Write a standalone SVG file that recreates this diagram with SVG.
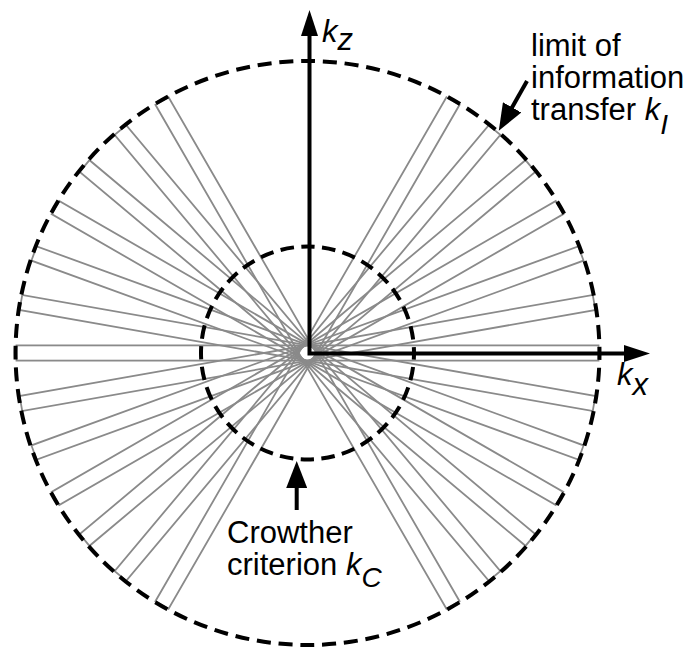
<svg xmlns="http://www.w3.org/2000/svg" width="692" height="648" viewBox="0 0 692 648">
<style>
.strip{fill:none;stroke:#8a8a8a;stroke-width:1.8}
.ring{fill:none;stroke:#000;stroke-width:4}
.axis{fill:none;stroke:#000;stroke-width:4;stroke-linejoin:miter}
.call{fill:none;stroke:#000;stroke-width:4}
.lbl{font-family:"Liberation Sans",Arial,sans-serif;font-size:31px;fill:#000}
.it{font-style:italic}
</style>
<defs>
<marker id="axhead" markerUnits="userSpaceOnUse" viewBox="0 0 26 17" refX="1" refY="8.5" markerWidth="26" markerHeight="17" orient="auto-start-reverse"><path d="M0,0 L26,8.5 L0,17 z" fill="#000"/></marker>
<marker id="callhead" markerUnits="userSpaceOnUse" viewBox="0 0 27 21" refX="1" refY="10.5" markerWidth="27" markerHeight="21" orient="auto"><path d="M0,0 L27,10.5 L0,21 z" fill="#000"/></marker>
<rect id="s" class="strip" x="-291" y="-7.6" width="582" height="15.2"/>
</defs>
<g id="strips" transform="translate(307.5,353)">
<use href="#s" transform="rotate(-60)"/>
<use href="#s" transform="rotate(-50)"/>
<use href="#s" transform="rotate(-40)"/>
<use href="#s" transform="rotate(-30)"/>
<use href="#s" transform="rotate(-20)"/>
<use href="#s" transform="rotate(-10)"/>
<use href="#s"/>
<use href="#s" transform="rotate(10)"/>
<use href="#s" transform="rotate(20)"/>
<use href="#s" transform="rotate(30)"/>
<use href="#s" transform="rotate(40)"/>
<use href="#s" transform="rotate(50)"/>
<use href="#s" transform="rotate(60)"/>
</g>
<g id="outer-circle"><circle class="ring" cx="307.5" cy="353" r="292" stroke-dasharray="14 7.842" stroke-dashoffset="7"/></g>
<g id="inner-circle"><circle class="ring" cx="307.5" cy="353" r="106.5" stroke-dasharray="13.5 7.41" stroke-dashoffset="6.75"/></g>
<g id="connectors">
<path class="axis" d="M309.5,35 L309.5,353.5 L625,353.5" marker-start="url(#axhead)" marker-end="url(#axhead)"/>
<line class="call" x1="527" y1="81" x2="511.6" y2="108.2" marker-end="url(#callhead)"/>
<line class="call" x1="296.7" y1="510" x2="296.7" y2="487" marker-end="url(#callhead)"/>
</g>
<g id="label-kz"><text class="lbl" x="322" y="42"><tspan class="it">k</tspan><tspan class="it" dy="8">z</tspan></text></g>
<g id="label-kx"><text class="lbl" x="617" y="385"><tspan class="it">k</tspan><tspan class="it" dy="10">x</tspan></text></g>
<g id="label-limit">
<text class="lbl" x="531" y="56">limit of</text>
<text class="lbl" x="531" y="88">information</text>
<text class="lbl" x="531" y="120">transfer <tspan class="it">k</tspan><tspan class="it" dy="14" font-size="28">I</tspan></text>
</g>
<g id="label-crowther">
<text class="lbl" x="227" y="543">Crowther</text>
<text class="lbl" x="227" y="575">criterion <tspan class="it">k</tspan><tspan class="it" dy="12" font-size="28">C</tspan></text>
</g>
</svg>
